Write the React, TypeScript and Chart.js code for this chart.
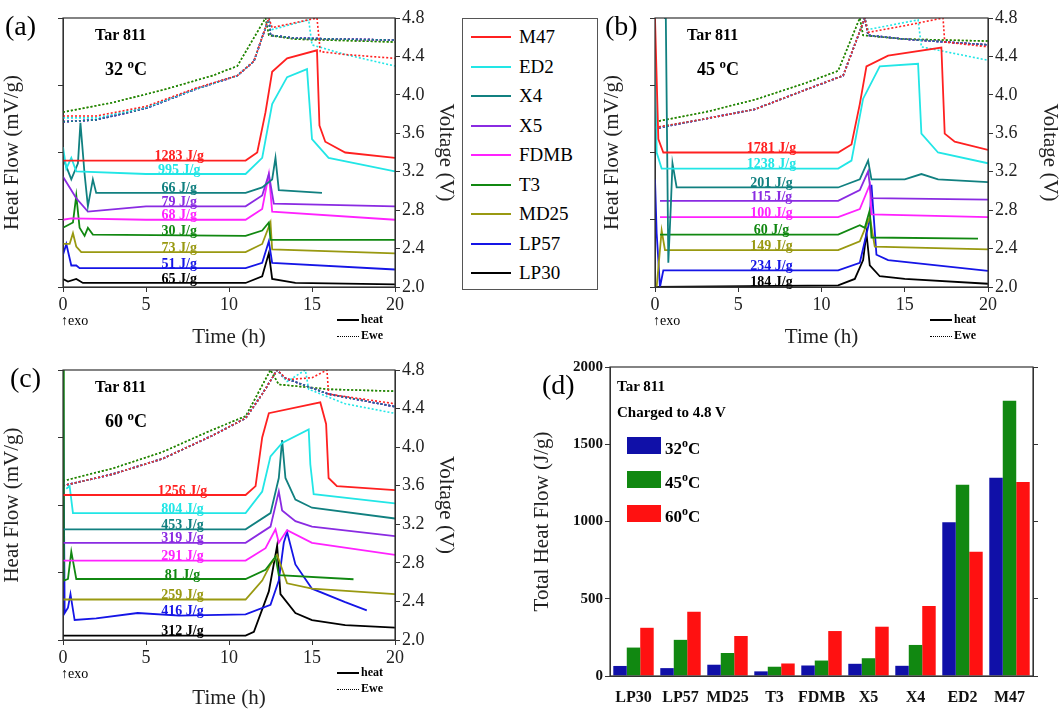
import React, { useEffect, useRef } from "react";
import { Chart, registerables } from "chart.js";
Chart.register(...registerables);

const FONT = "'Liberation Serif', 'DejaVu Serif', serif";

const seriesNames = ["M47", "ED2", "X4", "X5", "FDMB", "T3", "MD25", "LP57", "LP30"];
const seriesColors = ["#ff2020", "#22e6e6", "#118080", "#8a2be2", "#ff22ff", "#118811", "#999911", "#1515e6", "#000000"];

// ---------- panel (a) 32 °C ----------
const heatA: number[][][] = [
  [[0,47],[11,47],[11.7,50],[12.2,65],[12.6,80],[13.5,85],[15.3,88],[15.45,60],[15.8,54],[17,50],[20,48]],
  [[0,52],[0.2,44],[0.5,48],[0.8,43],[5,42],[11,42],[12,48],[12.6,68],[13.5,78],[14.7,81],[15,55],[16,48],[20,43]],
  [[0,48],[0.5,40],[0.9,46],[1.05,61],[1.3,42],[1.5,30],[1.8,40],[2,35],[11,35],[12,37],[12.6,40],[12.8,48],[13,36],[15.6,35]],
  [[0,41],[0.8,33],[1.5,28],[5,30],[11,30],[12,34],[12.4,42],[12.7,31],[20,30]],
  [[0,25],[0.5,25.5],[5,25],[11,25],[12,29],[12.4,42],[12.6,28],[20,25]],
  [[0,22],[0.6,24],[0.8,34],[1,22],[1.3,19],[1.5,22],[1.8,19.5],[11,19],[12,21],[12.4,24],[12.5,17.5],[20,17.5]],
  [[0,16],[0.4,16],[0.6,20],[0.8,15],[1.1,13],[11,13],[12,16],[12.5,24],[12.6,14],[20,12.5]],
  [[0,12],[0.2,16],[0.5,8],[0.8,8],[1,7],[11,7],[12,9],[12.4,17],[12.6,9],[20,6.5]],
  [[0,3],[0.3,2],[0.8,3],[1.2,1.5],[11,1.5],[12,4],[12.4,12.6],[12.6,3],[14,1.5],[20,1]],
];
const vA_base = [[0,3.72],[2,3.74],[5,3.86],[8,4.06],[10.5,4.2],[11.5,4.35],[12.4,4.8],[12.5,4.62],[14,4.59],[20,4.57]];
const vA_high = [[0,3.82],[3,3.92],[6,4.05],[9,4.2],[10.5,4.3],[12.2,4.8],[12.4,4.62],[14,4.58],[20,4.55]];
const vA_M47 = [[0,3.78],[2,3.78],[5,3.88],[8,4.07],[10.5,4.2],[11.5,4.35],[12.4,4.8],[12.6,4.7],[15.3,4.8],[15.5,4.45],[17,4.42],[20,4.38]];
const vA_ED2 = [[0,3.76],[2,3.76],[5,3.87],[8,4.06],[10.5,4.2],[11.5,4.35],[12.4,4.8],[12.6,4.68],[14.8,4.78],[15,4.52],[17,4.42],[20,4.3]];
const voltA = [vA_M47, vA_ED2, vA_base, vA_base, vA_base, vA_high, vA_high, vA_base, vA_base];
const labelsA = ["1283 J/g", "995 J/g", "66 J/g", "79 J/g", "68 J/g", "30 J/g", "73 J/g", "51 J/g", "65 J/g"];

// ---------- panel (b) 45 °C ----------
const heatB: number[][][] = [
  [[0,100],[0.05,100],[0.2,55],[0.5,50],[11,50],[11.8,53],[12.3,68],[12.7,82],[14,86],[17.2,89],[17.4,57],[18,54],[20,51]],
  [[0,89],[0.1,50],[0.4,44],[11,44],[11.8,47],[12.5,70],[13.5,82],[15.8,83],[16,57],[17,50],[20,46]],
  [[0.55,100],[0.65,100],[0.8,9],[0.95,30],[1.05,46],[1.3,37],[11,37],[12.3,40],[12.8,47],[13,40],[15,40],[16,42],[17,40],[20,39]],
  [[0.3,32],[11,32],[12.3,36],[12.8,43],[13,33],[20,32.5]],
  [[0.3,26],[11,26],[12.3,29],[12.9,38],[13,27],[20,26]],
  [[0.3,19.5],[11,19.5],[12.3,23],[12.6,22],[12.9,28.6],[13,18.4],[19.4,18]],
  [[0.1,0],[0.4,21],[0.6,13.7],[11,13.7],[12.3,17],[12.9,26],[13.2,15],[20,14]],
  [[0,40],[0.1,20],[0.3,0],[0.5,6.2],[11,6.2],[12.3,9],[12.9,25],[13,38],[13.3,12],[14,10],[20,6]],
  [[0,0],[11,0.6],[12,3],[12.5,10],[12.7,20],[12.9,8],[13.5,4],[15,3],[20,1.2]],
];
const vB_base = [[0,3.65],[3,3.75],[6,3.85],[9,4.05],[11.3,4.2],[12.6,4.8],[12.8,4.62],[15,4.58],[20,4.52]];
const vB_high = [[0,3.72],[3,3.82],[6,3.95],[9,4.12],[11,4.25],[12.3,4.8],[12.5,4.62],[15,4.58],[20,4.56]];
const vB_M47 = [[0,3.66],[3,3.75],[6,3.85],[9,4.05],[11.3,4.2],[12.6,4.8],[12.8,4.65],[15,4.72],[17.3,4.8],[17.4,4.55],[20,4.5]];
const vB_ED2 = [[0,3.66],[3,3.75],[6,3.85],[9,4.05],[11.3,4.2],[12.6,4.8],[12.8,4.68],[15.8,4.78],[16,4.5],[20,4.36]];
const voltB = [vB_M47, vB_ED2, vB_base, vB_base, vB_base, vB_high, vB_high, vB_base, vB_base];
const labelsB = ["1781 J/g", "1238 J/g", "201 J/g", "115 J/g", "100 J/g", "60 J/g", "149 J/g", "234 J/g", "184 J/g"];

// ---------- panel (c) 60 °C ----------
const heatC: number[][][] = [
  [[0,53.7],[11,53.7],[11.6,57],[12,75],[12.4,84],[15.5,88],[15.85,80],[16,60],[16.5,57],[20,55.5]],
  [[0.2,56],[0.4,57],[0.6,47],[11,47],[12,55],[12.5,68],[13.2,73],[14.8,78],[14.9,65],[15.1,54],[20,50.6]],
  [[0,41],[11,41],[12.5,47],[13,60],[13.2,74],[13.4,60],[14,52],[15,49],[20,45]],
  [[0,36],[11,36],[12.5,42],[13,55],[13.2,48],[14,44],[15,42],[20,38.5]],
  [[0,29.4],[11,29.4],[12.2,34],[12.8,41],[13,36],[13.5,40.7],[15,36],[20,31.5]],
  [[0,100],[0.05,22],[0.3,22.6],[0.5,32.7],[0.8,22.6],[11,22.6],[12.2,26],[12.8,30.9],[13,24],[17.5,22.5]],
  [[0,15],[11,15],[12,22],[12.5,28],[12.9,31.5],[13.5,21],[15,19],[20,17]],
  [[0,100],[0.1,10],[0.3,12],[0.45,17],[0.7,7.4],[2,8],[4.5,10],[7,9],[11,9.5],[12.5,13],[13,22],[13.3,36],[13.5,40],[14,28],[15,19],[17,14],[18.3,11]],
  [[0,1.6],[11,1.6],[11.5,3],[12.4,18],[12.9,35],[13.1,17],[14,10],[15,7.4],[17,5.5],[20,4.6]],
];
const vC_base = [[0,3.6],[3,3.72],[6,3.88],[9,4.12],[11,4.3],[12,4.55],[12.9,4.8],[13.3,4.72],[16,4.55],[20,4.42]];
const vC_high = [[0,3.65],[3,3.78],[6,3.95],[9,4.18],[11,4.32],[12.5,4.8],[13,4.65],[16,4.6],[20,4.58]];
const vC_M47 = [[0,3.6],[3,3.72],[6,3.88],[9,4.12],[11,4.3],[12,4.55],[12.9,4.8],[13.5,4.7],[15,4.72],[15.9,4.8],[16,4.55],[20,4.45]];
const vC_ED2 = [[0,3.6],[3,3.72],[6,3.88],[9,4.12],[11,4.3],[12,4.55],[12.9,4.8],[13.5,4.68],[14.6,4.8],[14.8,4.6],[17,4.45],[20,4.35]];
const voltC = [vC_M47, vC_ED2, vC_base, vC_base, vC_base, vC_high, vC_high, vC_base, vC_base];
const labelsC = ["1256 J/g", "804 J/g", "453 J/g", "319 J/g", "291 J/g", "81 J/g", "259 J/g", "416 J/g", "312 J/g"];

// ---------- panel (d) ----------
const barCategories = ["LP30", "LP57", "MD25", "T3", "FDMB", "X5", "X4", "ED2", "M47"];
const total32 = [65, 51, 73, 30, 68, 79, 66, 995, 1283];
const total45 = [184, 234, 149, 60, 100, 115, 201, 1238, 1781];
const total60 = [312, 416, 259, 81, 291, 319, 453, 804, 1256];
const barTemps = ["32", "45", "60"];
const barColors = ["#1010a8", "#118811", "#ff1111"];

function interp(arr: number[][], t: number) {
  for (let i = 1; i < arr.length; i++) {
    if (arr[i][0] >= t) {
      const [x0, y0] = arr[i - 1], [x1, y1] = arr[i];
      return y0 + ((y1 - y0) * (t - x0)) / (x1 - x0 || 1);
    }
  }
  return arr[arr.length - 1][1];
}

const framePlugin = {
  id: "frame",
  afterDraw(chart: any) {
    const { ctx, chartArea: a } = chart;
    ctx.save();
    ctx.strokeStyle = "#333";
    ctx.lineWidth = 1.2;
    ctx.strokeRect(a.left, a.top, a.right - a.left, a.bottom - a.top);
    ctx.restore();
  },
};

function fit(w: number) {
  return (s: any) => { s.width = w; };
}
function fitH(h: number) {
  return (s: any) => { s.height = h; };
}

type PanelProps = {
  left: number; top: number; width: number; height: number;
  padTop: number; yW: number; y1W: number; xH: number;
  heat: number[][][]; volt: number[][][]; labels: string[]; labelT: number;
  tag: string; temp: string; tagX: number;
};

function LinePanel(p: PanelProps) {
  const ref = useRef<HTMLCanvasElement>(null);
  useEffect(() => {
    const datasets: any[] = [];
    p.heat.forEach((arr, i) => datasets.push({
      data: arr.map(([x, y]) => ({ x, y })), borderColor: seriesColors[i], borderWidth: 1.8,
      pointRadius: 0, yAxisID: "y", tension: 0,
    }));
    p.volt.forEach((arr, i) => datasets.push({
      data: arr.map(([x, y]) => ({ x, y })), borderColor: seriesColors[i], borderWidth: 1.6,
      borderDash: [2, 2], pointRadius: 0, yAxisID: "y1", tension: 0,
    }));
    const labelPlugin = {
      id: "elabels",
      afterDatasetsDraw(chart: any) {
        const { ctx } = chart;
        const xs = chart.scales.x, ys = chart.scales.y;
        ctx.save();
        ctx.font = `bold 14px ${FONT}`;
        ctx.textAlign = "center";
        ctx.textBaseline = "bottom";
        p.labels.forEach((lab, i) => {
          ctx.fillStyle = seriesColors[i];
          ctx.fillText(lab, xs.getPixelForValue(p.labelT), ys.getPixelForValue(interp(p.heat[i], p.labelT)) + 3);
        });
        ctx.restore();
      },
    };
    const tickFont = { family: FONT, size: 18 };
    const chart = new Chart(ref.current!, {
      type: "line",
      data: { datasets },
      plugins: [framePlugin, labelPlugin],
      options: {
        animation: false, responsive: false, events: [],
        layout: { padding: { top: p.padTop, left: 0, right: 0, bottom: 0 } },
        plugins: { legend: { display: false }, tooltip: { enabled: false } },
        scales: {
          x: {
            type: "linear", min: 0, max: 20,
            ticks: { stepSize: 5, font: tickFont, color: "#222", padding: 2 },
            grid: { drawOnChartArea: false, tickLength: 5, color: "#333" },
            border: { color: "#333" },
            title: { display: true, text: "Time (h)", font: { family: FONT, size: 21 }, color: "#222", padding: 0 },
            afterFit: fitH(p.xH),
          },
          y: {
            position: "left", min: 0, max: 100,
            ticks: { stepSize: 25, callback: () => "", padding: 0 },
            grid: { drawOnChartArea: false, tickLength: 5, color: "#333" },
            border: { color: "#333" },
            title: { display: true, text: "Heat Flow (mV/g)", font: { family: FONT, size: 21 }, color: "#222", padding: 0 },
            afterFit: fit(p.yW),
          },
          y1: {
            position: "right", min: 2.0, max: 4.8,
            ticks: { stepSize: 0.4, font: tickFont, color: "#222", callback: (v: any) => Number(v).toFixed(1), padding: 2 },
            grid: { drawOnChartArea: false, tickLength: 5, color: "#333" },
            border: { color: "#333" },
            title: { display: true, text: "Voltage (V)", font: { family: FONT, size: 21 }, color: "#222", padding: 2 },
            afterFit: fit(p.y1W),
          },
        },
      } as any,
    });
    return () => chart.destroy();
  }, []);
  const plotL = p.yW, plotT = p.padTop;
  const plotR = p.width - p.y1W, plotB = p.height - p.xH;
  return (
    <div style={{ position: "absolute", left: p.left, top: p.top, width: p.width, height: p.height }}>
      <canvas ref={ref} width={p.width} height={p.height} style={{ width: p.width, height: p.height }} />
      <div style={{ position: "absolute", left: p.tagX, top: plotT - 8, fontSize: 28, fontFamily: FONT }}>{p.tag}</div>
      <div style={{ position: "absolute", left: plotL + 32, top: plotT + 8, fontSize: 16, fontWeight: "bold", fontFamily: FONT }}>Tar 811</div>
      <div style={{ position: "absolute", left: plotL + 42, top: plotT + 38, fontSize: 18, fontWeight: "bold", fontFamily: FONT }}>
        {p.temp} <sup style={{ fontSize: 13 }}>o</sup>C
      </div>
      <div style={{ position: "absolute", left: plotL - 2, top: plotB + 26, fontSize: 14, fontFamily: FONT }}>↑exo</div>
      <div style={{ position: "absolute", left: plotR - 58, top: plotB + 24, fontSize: 12, fontWeight: "bold", fontFamily: FONT, lineHeight: "16px" }}>
        <div><span style={{ display: "inline-block", width: 22, borderTop: "2px solid #000", verticalAlign: "middle", marginRight: 2 }} />heat</div>
        <div><span style={{ display: "inline-block", width: 22, borderTop: "1.5px dotted #000", verticalAlign: "middle", marginRight: 2 }} />Ewe</div>
      </div>
    </div>
  );
}

function BarPanel() {
  const ref = useRef<HTMLCanvasElement>(null);
  const W = 534, H = 356;
  useEffect(() => {
    const totals = [total32, total45, total60];
    const chart = new Chart(ref.current!, {
      type: "bar",
      data: {
        labels: barCategories,
        datasets: totals.map((d, i) => ({ label: barTemps[i], data: d, backgroundColor: barColors[i], yAxisID: "y" })),
      },
      plugins: [framePlugin],
      options: {
        animation: false, responsive: false, events: [],
        layout: { padding: { top: 12, right: 0, left: 0, bottom: 0 } },
        datasets: { bar: { categoryPercentage: 0.86, barPercentage: 1 } },
        plugins: { legend: { display: false }, tooltip: { enabled: false } },
        scales: {
          x: {
            ticks: { font: { family: FONT, size: 16, weight: "bold" }, color: "#111", padding: 4, maxRotation: 0, minRotation: 0, autoSkip: false },
            grid: { display: false }, border: { color: "#333" },
            afterFit: fitH(35),
          },
          y: {
            min: 0, max: 2000,
            ticks: { stepSize: 500, font: { family: FONT, size: 15, weight: "bold" }, color: "#111", padding: 2, callback: (v: any) => String(v) },
            grid: { drawOnChartArea: false, tickLength: 5, color: "#333" },
            border: { color: "#333" },
            title: { display: true, text: "Total Heat Flow (J/g)", font: { family: FONT, size: 21 }, color: "#222", padding: 0 },
            afterFit: fit(80),
          },
          y2: {
            position: "right", min: 0, max: 2000,
            ticks: { stepSize: 500, callback: () => "" },
            grid: { drawOnChartArea: false, tickLength: 5, color: "#333" },
            border: { color: "#333" },
            afterFit: fit(31),
          },
        },
      } as any,
    });
    return () => chart.destroy();
  }, []);
  return (
    <div style={{ position: "absolute", left: 530, top: 355, width: W, height: H }}>
      <canvas ref={ref} width={W} height={H} style={{ width: W, height: H }} />
      <div style={{ position: "absolute", left: 12, top: 14, fontSize: 28, fontFamily: FONT }}>(d)</div>
      <div style={{ position: "absolute", left: 87, top: 18, fontSize: 15, fontWeight: "bold", fontFamily: FONT, lineHeight: "26px" }}>
        <div>Tar 811</div>
        <div>Charged to 4.8 V</div>
      </div>
      {barTemps.map((t, i) => (
        <div key={t} style={{ position: "absolute", left: 97, top: 78 + i * 34, fontFamily: FONT, fontWeight: "bold", fontSize: 17, lineHeight: "20px", whiteSpace: "nowrap" }}>
          <span style={{ display: "inline-block", width: 34, height: 17, background: barColors[i], marginRight: 4, verticalAlign: "middle" }} />
          <span style={{ verticalAlign: "middle" }}>{t}<sup style={{ fontSize: 12 }}>o</sup>C</span>
        </div>
      ))}
    </div>
  );
}

function LegendBox() {
  return (
    <div style={{ position: "absolute", left: 462, top: 18, width: 134, height: 270, border: "1px solid #555", fontFamily: FONT, fontSize: 19 }}>
      {seriesNames.map((n, i) => (
        <div key={n} style={{ position: "absolute", left: 8, top: 6 + i * 29.5, display: "flex", alignItems: "center", height: 24 }}>
          <span style={{ display: "inline-block", width: 40, borderTop: `2px solid ${seriesColors[i]}`, marginRight: 8 }} />
          {n}
        </div>
      ))}
    </div>
  );
}

export default function App() {
  return (
    <div style={{ position: "fixed", left: 0, top: 0, width: 1064, height: 711, background: "#fff", overflow: "hidden" }}>
      <LinePanel left={0} top={0} width={460} height={350} padTop={18} yW={63} y1W={65} xH={63}
        heat={heatA} volt={voltA} labels={labelsA} labelT={7} tag="(a)" temp="32" tagX={5} />
      <LinePanel left={600} top={0} width={464} height={350} padTop={18} yW={55} y1W={76} xH={63}
        heat={heatB} volt={voltB} labels={labelsB} labelT={7} tag="(b)" temp="45" tagX={5} />
      <LinePanel left={0} top={355} width={460} height={356} padTop={15} yW={63} y1W={65} xH={71}
        heat={heatC} volt={voltC} labels={labelsC} labelT={7.2} tag="(c)" temp="60" tagX={10} />
      <LegendBox />
      <BarPanel />
    </div>
  );
}
